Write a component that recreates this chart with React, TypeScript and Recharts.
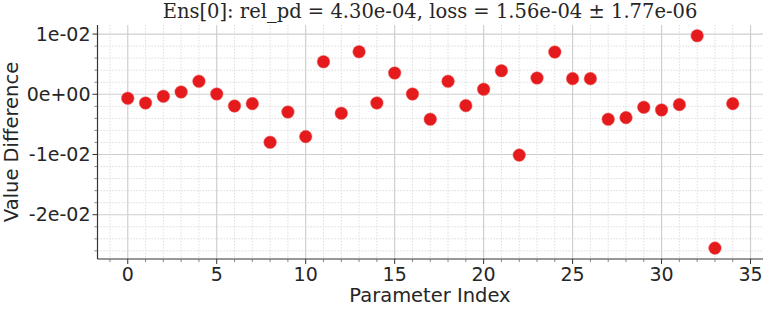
import React from "react";
import { ScatterChart, Scatter, XAxis, YAxis, CartesianGrid } from "recharts";

// Values
const paramIndex = [
  0, 1, 2, 3, 4, 5, 6, 7, 8, 9, 10, 11, 12, 13, 14, 15, 16, 17,
  18, 19, 20, 21, 22, 23, 24, 25, 26, 27, 28, 29, 30, 31, 32, 33, 34,
];
const valueDiff = [
  -0.00066, -0.00144, -0.00033, 0.00038, 0.00216, 0.00005, -0.00194, -0.00156,
  -0.00796, -0.00294, -0.00703, 0.0054, -0.00315, 0.00707, -0.00144, 0.00353,
  0.00005, -0.00415, 0.00216, -0.00189, 0.00083, 0.00391, -0.0101, 0.0027,
  0.00701, 0.00259, 0.00259, -0.00415, -0.00388, -0.00216, -0.0026, -0.00172,
  0.00972, -0.02554, -0.00156,
];

const xMajorTicks = [0, 5, 10, 15, 20, 25, 30, 35];
const xMinorTicks = [
  -1, 1, 2, 3, 4, 6, 7, 8, 9, 11, 12, 13, 14, 16, 17, 18, 19, 21, 22, 23, 24,
  26, 27, 28, 29, 31, 32, 33, 34,
];
const yMajorTicks = [-0.02, -0.01, 0, 0.01];
const yMinorTicks = [
  -0.026, -0.024, -0.022, -0.018, -0.016, -0.014, -0.012, -0.008, -0.006,
  -0.004, -0.002, 0.002, 0.004, 0.006, 0.008,
];
const yTickLabels = ["-2e-02", "-1e-02", "0e+00", "1e-02"];

const title = "Ens[0]: rel_pd = 4.30e-04, loss = 1.56e-04 ± 1.77e-06";
const xLabel = "Parameter Index";
const yLabel = "Value Difference";

const points = paramIndex.map((i, k) => ({ x: i, y: valueDiff[k] }));

const font = "'DejaVu Sans', sans-serif";
const textColor = "#262626";

const isMajor = (v: number, list: number[]) => list.some((t) => Math.abs(t - v) < 1e-9);

function XTick(props: any) {
  const { x, y, payload } = props;
  const major = isMajor(payload.value, xMajorTicks);
  return (
    <g>
      <line x1={x} x2={x} y1={y} y2={y + (major ? 5 : 3)} stroke={major ? "#333" : "#666"} strokeWidth={major ? 1 : 0.8} />
      {major && (
        <text x={x} y={y + 22} textAnchor="middle" fontSize={19} fontFamily={font} fill={textColor}>
          {payload.value}
        </text>
      )}
    </g>
  );
}

function YTick(props: any) {
  const { x, y, payload } = props;
  const idx = yMajorTicks.findIndex((t) => Math.abs(t - payload.value) < 1e-9);
  const major = idx >= 0;
  return (
    <g>
      <line x1={x - (major ? 5 : 3)} x2={x} y1={y} y2={y} stroke={major ? "#333" : "#666"} strokeWidth={major ? 1 : 0.8} />
      {major && (
        <text x={x - 7} y={y + 6.5} textAnchor="end" fontSize={19} fontFamily={font} fill={textColor}>
          {yTickLabels[idx]}
        </text>
      )}
    </g>
  );
}

export default function App() {
  return (
    <div style={{ position: "absolute", left: 0, top: 0, width: 776, height: 330, background: "#fff" }}>
      <div
        style={{
          position: "absolute",
          left: 97,
          width: 666,
          top: 0,
          textAlign: "center",
          fontFamily: "'DejaVu Serif', serif",
          fontSize: 19.5,
          lineHeight: "24px",
          color: textColor,
          whiteSpace: "nowrap",
        }}
      >
        {title}
      </div>
      <div
        style={{
          position: "absolute",
          left: 330,
          width: 200,
          top: 285,
          textAlign: "center",
          fontFamily: font,
          fontSize: 19.5,
          lineHeight: "22px",
          color: textColor,
          whiteSpace: "nowrap",
        }}
      >
        {xLabel}
      </div>
      <div
        style={{
          position: "absolute",
          left: 12 - 100,
          width: 200,
          top: 142 - 12,
          textAlign: "center",
          fontFamily: font,
          fontSize: 19.5,
          lineHeight: "24px",
          color: textColor,
          whiteSpace: "nowrap",
          transform: "rotate(-90deg)",
        }}
      >
        {yLabel}
      </div>
      <ScatterChart width={776} height={330} margin={{ top: 25, right: 13, bottom: 0, left: 0 }}>
        <CartesianGrid
          verticalValues={xMinorTicks}
          horizontalValues={yMinorTicks}
          stroke="#d6d6d6"
          strokeDasharray="1.5 1.5"
          strokeWidth={0.8}
        />
        <CartesianGrid verticalValues={xMajorTicks} horizontalValues={yMajorTicks} stroke="#cfcfcf" strokeWidth={1.2} />
        <XAxis
          type="number"
          dataKey="x"
          domain={[-1.7, 35.7]}
          ticks={[...xMajorTicks, ...xMinorTicks].filter((v) => v > -1.7).sort((a, b) => a - b)}
          allowDataOverflow
          height={71}
          tickSize={0}
          tickMargin={0}
          tickLine={false}
          axisLine={{ stroke: "#333", strokeWidth: 1.2 }}
          tick={<XTick />}
          interval={0}
        />
        <XAxis xAxisId="top" orientation="top" type="number" dataKey="x" domain={[-1.7, 35.7]} allowDataOverflow height={0} tick={false} tickLine={false} axisLine={{ stroke: "#555", strokeWidth: 1 }} />
        <YAxis
          type="number"
          dataKey="y"
          domain={[-0.02735, 0.0115]}
          ticks={[...yMajorTicks, ...yMinorTicks].sort((a, b) => a - b)}
          allowDataOverflow
          width={97.5}
          tickSize={0}
          tickMargin={0}
          tickLine={false}
          axisLine={{ stroke: "#333", strokeWidth: 1.2 }}
          tick={<YTick />}
          interval={0}
        />
        <YAxis yAxisId="right" orientation="right" type="number" dataKey="y" domain={[-0.02735, 0.0115]} allowDataOverflow width={0} tick={false} tickLine={false} axisLine={{ stroke: "#888", strokeWidth: 1 }} />
        <Scatter data={points} fill="#e41a1c" isAnimationActive={false} shape={(p: any) => <circle cx={p.cx} cy={p.cy} r={6.3} fill="#e41a1c" stroke="#f06060" strokeWidth={0.5} />} />
      </ScatterChart>
    </div>
  );
}
